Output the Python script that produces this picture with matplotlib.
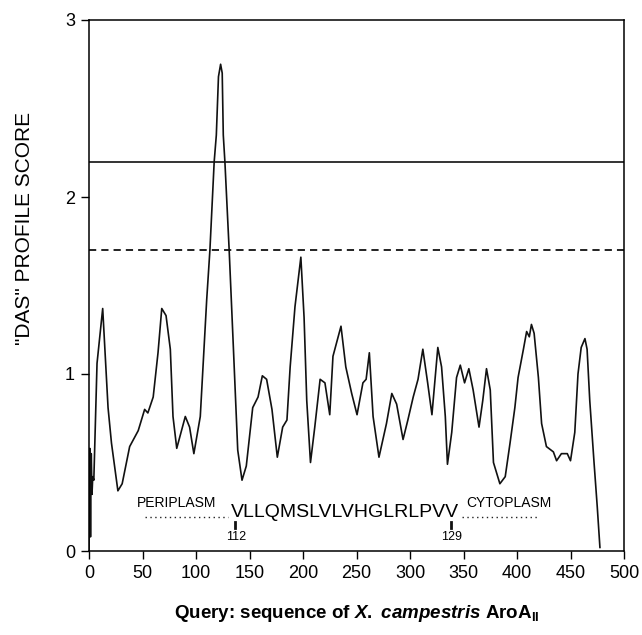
import numpy as np
import matplotlib
matplotlib.use("Agg")
import matplotlib.pyplot as plt

plt.rcParams['font.family'] = ['Liberation Sans', 'DejaVu Sans']
plt.rcParams['mathtext.fontset'] = 'custom'
plt.rcParams['mathtext.rm'] = 'Liberation Sans:bold'
plt.rcParams['mathtext.it'] = 'Liberation Sans:italic:bold'
plt.rcParams['mathtext.bf'] = 'Liberation Sans:bold'

# DAS profile (residue position, score)
residue = [0, 0.7, 1.4, 2.1, 2.8, 3.5, 4.5, 7.5, 12.8, 17.8, 21, 27, 31, 38, 46, 52, 55,
           60, 64.5, 68, 72, 76, 78.5, 82, 90, 94, 98, 104, 110, 113, 117, 119, 121,
           123, 124.5, 125.5, 127, 131, 135, 139, 143, 147, 153, 158, 162, 166, 171,
           176, 181, 185, 188, 192.5, 198, 201, 203.5, 207, 211, 216, 220.5, 225, 228,
           235.5, 240, 245.5, 250.5, 256, 259, 262, 265.5, 271, 278, 283, 287.5, 293.5,
           298, 303, 307.5, 312, 316.5, 320.5, 326, 329.5, 333, 335, 339, 343.5, 347,
           351, 355, 359, 364.5, 368, 371.5, 375, 378, 384, 389, 393.5, 398, 401, 406,
           409, 411.5, 413.5, 416, 420, 423, 427.5, 434, 437, 441.5, 447, 450, 454,
           457, 460, 463.5, 465.5, 468, 472, 475, 477.5]
score = [0.0, 0.58, 0.08, 0.55, 0.32, 0.42, 0.40, 1.06, 1.37, 0.81, 0.61, 0.34, 0.38, 0.59,
         0.68, 0.80, 0.78, 0.87, 1.12, 1.37, 1.33, 1.14, 0.76, 0.58, 0.76, 0.70, 0.55,
         0.76, 1.42, 1.70, 2.20, 2.35, 2.68, 2.75, 2.70, 2.35, 2.20, 1.70, 1.14, 0.57,
         0.40, 0.48, 0.81, 0.87, 0.99, 0.97, 0.80, 0.53, 0.70, 0.74, 1.04, 1.38, 1.66,
         1.32, 0.85, 0.50, 0.70, 0.97, 0.95, 0.77, 1.10, 1.27, 1.04, 0.89, 0.77, 0.95,
         0.97, 1.12, 0.76, 0.53, 0.72, 0.89, 0.83, 0.63, 0.74, 0.87, 0.97, 1.14, 0.95,
         0.77, 1.15, 1.04, 0.76, 0.49, 0.67, 0.98, 1.05, 0.95, 1.03, 0.91, 0.70, 0.85,
         1.03, 0.91, 0.50, 0.38, 0.42, 0.61, 0.81, 0.98, 1.14, 1.24, 1.21, 1.28, 1.23,
         0.98, 0.72, 0.59, 0.56, 0.51, 0.55, 0.55, 0.51, 0.67, 1.00, 1.15, 1.20, 1.14,
         0.85, 0.50, 0.25, 0.02]

strict_cutoff = 2.2
loose_cutoff = 1.7

segment = "VLLQMSLVLVHGLRLPVV"
segment_start, segment_end = 112, 129
start_mark, end_mark = 136.5, 338

x_ticks = [0, 50, 100, 150, 200, 250, 300, 350, 400, 450, 500]
y_ticks = [0, 1, 2, 3]

fig = plt.figure(figsize=(6.42, 6.35), dpi=100)
ax = fig.add_axes([89 / 642, 1 - 551 / 635, 535 / 642, 531 / 635])

ax.plot(residue, score, color='#111111', lw=1.2)
ax.axhline(strict_cutoff, color='#111111', lw=1.2)
ax.axhline(loose_cutoff, color='#111111', lw=1.3, linestyle=(0, (4, 2.8)))

# membrane segment annotation
ax.plot([52, 130], [0.19, 0.19], color='#222222', lw=1, linestyle=(0, (1, 2.5)))
ax.plot([349, 420], [0.19, 0.19], color='#222222', lw=1, linestyle=(0, (1, 2.5)))
ax.text(239.5, 0.19, segment, fontsize=14, ha='center', va='baseline')
ax.text(82, 0.25, "PERIPLASM", fontsize=10, ha='center', va='baseline')
ax.text(392.5, 0.25, "CYTOPLASM", fontsize=10, ha='center', va='baseline')
for xm in (start_mark, end_mark):
    ax.plot([xm, xm], [0.13, 0.165], color='#111111', lw=2)
ax.text(start_mark + 1, 0.08, str(segment_start), fontsize=9, ha='center', va='center')
ax.text(end_mark + 1, 0.08, str(segment_end), fontsize=9, ha='center', va='center')

ax.set_xlim(0, 500)
ax.set_ylim(0, 3)
ax.set_xticks(x_ticks)
ax.set_yticks(y_ticks)
ax.tick_params(direction='out', length=6, width=1, labelsize=13, pad=4)
for s in ax.spines.values():
    s.set_linewidth(1.1)

ax.set_ylabel('"DAS" PROFILE SCORE', fontsize=15, ha='center', va='center')
ax.yaxis.set_label_coords(-0.12, 0.608)
ax.set_xlabel(r"Query: sequence of $\mathit{X.\ campestris}$ AroA$_{\mathbf{II}}$",
              fontsize=13.5, fontweight='bold', va='center')
ax.xaxis.set_label_coords(0.5, -0.117)

fig.savefig("out.png", dpi=100)
